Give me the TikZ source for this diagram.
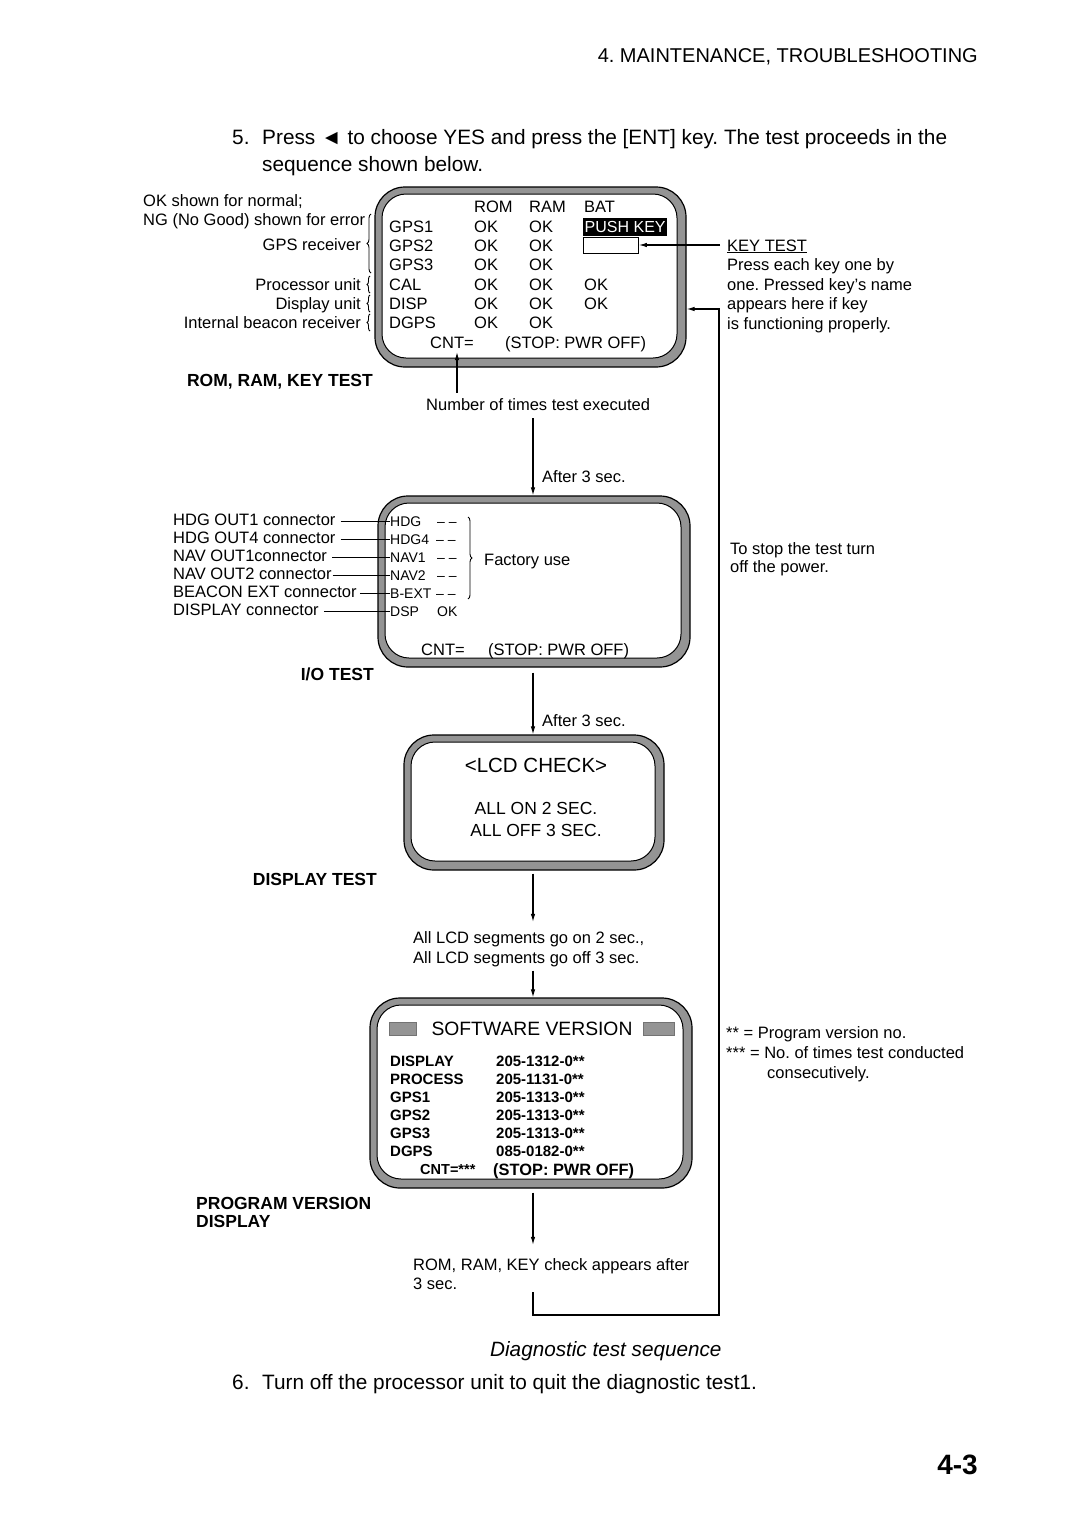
\documentclass[tikz,border=0pt]{standalone}
\usepackage{fontspec}
\setmainfont{Liberation Sans}
\usetikzlibrary{arrows.meta,positioning,calc,decorations.pathreplacing}
\frenchspacing

\begin{document}
\begin{tikzpicture}[
    x=1pt,y=-1pt,>={Latex[length=8pt,width=4.5pt]},
    body/.style={font=\fontsize{20.8}{24}\selectfont,inner sep=0pt},
    note/.style={font=\fontsize{16.5}{19.5}\selectfont,inner sep=0pt},
    io/.style={font=\fontsize{14}{17}\selectfont,inner sep=0pt},
    ver/.style={font=\bfseries\fontsize{15}{17}\selectfont,inner sep=0pt},
    head/.style={font=\bfseries\fontsize{17.5}{19}\selectfont,inner sep=0pt},
    frame/.style={draw,fill=black!42,rounded corners=30pt,line width=1.2pt,inner sep=0pt},
    screen/.style={draw,fill=white,rounded corners=24pt,line width=1pt,inner sep=0pt},
    brc/.style={decorate,decoration={brace,amplitude=4pt},line width=0.9pt},
    link/.style={line width=1.1pt}]

  \useasboundingbox (0,0) rectangle (1080,1528);

  % page text
  \node[body,font=\fontsize{20}{24}\selectfont,anchor=base east] (hdr) at (978,63) {4. MAINTENANCE, TROUBLESHOOTING};
  \node[body,anchor=base west] (n5) at (232,144) {5.};
  \node[body,anchor=base west] (s5a) at (262,144) {Press ◄ to choose YES and press the [ENT] key. The test proceeds in the};
  \node[body,anchor=base west] (s5b) at (262,171) {sequence shown below.};

  \coordinate (axis) at (533,0);

  % ROM, RAM, KEY test
  \node[frame,minimum width=311pt,minimum height=180pt] (B1o) at (530.5,277) {};
  \node[screen,minimum width=295pt,minimum height=164pt] (B1i) at (529.5,276) {};
  \node[note,anchor=base west] (rom) at (474,212) {ROM};
  \node[note,anchor=base west] (ram) at (529,212) {RAM};
  \node[note,anchor=base west] (bat) at (584,212) {BAT};
  \node[note,anchor=base west] (g1) at (389,232) {GPS1};
  \node[note,anchor=base west] (g1a) at (474,232) {OK};
  \node[note,anchor=base west] (g1b) at (529,232) {OK};
  \node[note,font=\fontsize{16}{19}\selectfont,anchor=base west,fill=black,text=white,inner xsep=1.5pt,inner ysep=2pt,text height=12pt,text depth=2pt] (push) at (583,232) {PUSH KEY};
  \node[note,anchor=base west] (g2) at (389,251) {GPS2};
  \node[note,anchor=base west] (g2a) at (474,251) {OK};
  \node[note,anchor=base west] (g2b) at (529,251) {OK};
  \node[draw,line width=0.8pt,minimum width=55pt,minimum height=16pt,inner sep=0pt] (kbox) at (611,245) {};
  \node[note,anchor=base west] (g3) at (389,270) {GPS3};
  \node[note,anchor=base west] (g3a) at (474,270) {OK};
  \node[note,anchor=base west] (g3b) at (529,270) {OK};
  \node[note,anchor=base west] (cal) at (389,290) {CAL};
  \node[note,anchor=base west] (cala) at (474,290) {OK};
  \node[note,anchor=base west] (calb) at (529,290) {OK};
  \node[note,anchor=base west] (calc) at (584,290) {OK};
  \node[note,anchor=base west] (disp) at (389,309) {DISP};
  \node[note,anchor=base west] (dispa) at (474,309) {OK};
  \node[note,anchor=base west] (dispb) at (529,309) {OK};
  \node[note,anchor=base west] (dispc) at (584,309) {OK};
  \node[note,anchor=base west] (dgps) at (389,328) {DGPS};
  \node[note,anchor=base west] (dgpsa) at (474,328) {OK};
  \node[note,anchor=base west] (dgpsb) at (529,328) {OK};
  \node[note,anchor=base west] (cnt1) at (430,348) {CNT=};
  \node[note,anchor=base west] (stop1) at (505,348) {(STOP: PWR OFF)};

  \node[note,anchor=base west] (okn) at (143,206) {OK shown for normal;};
  \node[note,anchor=base west] (ng) at (143,225) {NG (No Good) shown for error};
  \node[note,anchor=base east] (gpsr) at (361,250) {GPS receiver};
  \node[note,anchor=base east] (proc) at (361,290) {Processor unit};
  \node[note,anchor=base east] (dunit) at (361,309) {Display unit};
  \node[note,anchor=base east] (ibr) at (361,328) {Internal beacon receiver};
  \draw[brc] (371,273) -- (371,214);
  \draw[brc,decoration={amplitude=3pt}] (370,293) -- (370,276);
  \draw[brc,decoration={amplitude=3pt}] (370,312) -- (370,295);
  \draw[brc,decoration={amplitude=3pt}] (370,331) -- (370,314);

  \node[note,anchor=base west] (kt) at (727,251) {\underline{KEY TEST}};
  \node[note,anchor=base west] (kt1) at (727,270) {Press each key one by};
  \node[note,anchor=base west] (kt2) at (727,290) {one. Pressed key’s name};
  \node[note,anchor=base west] (kt3) at (727,309) {appears here if key};
  \node[note,anchor=base west] (kt4) at (727,329) {is functioning properly.};
  \draw[link,->,shorten <=7pt] (kbox.east -| kt.west) -- (kbox.east);

  \node[head,anchor=base east] (h1) at (373,386) {ROM, RAM, KEY TEST};
  \node[note,anchor=base west] (num) at (426,410) {Number of times test executed};
  \coordinate (cntx) at (457,352);
  \draw[link,->,shorten <=5pt] (num.north -| cntx) -- (cntx);
  \node[note,anchor=base west] (aft1) at (542,482) {After 3 sec.};

  % I/O test
  \node[frame,minimum width=312pt,minimum height=171pt] (B2o) at (534,581.5) {};
  \node[screen,minimum width=296pt,minimum height=155pt] (B2i) at (533,580.5) {};
  \node[io,anchor=base west] (hdg) at (390,526) {HDG};
  \node[io,anchor=base west] (hdg4) at (390,544) {HDG4};
  \node[io,anchor=base west] (nav1) at (390,562) {NAV1};
  \node[io,anchor=base west] (nav2) at (390,580) {NAV2};
  \node[io,anchor=base west] (bext) at (390,598) {B-EXT};
  \node[io,anchor=base west] (dsp) at (390,616) {DSP};
  \node[io,anchor=base west] (hdgd) at (437,526) {– –};
  \node[io,anchor=base west] (hdg4d) at (436,544) {– –};
  \node[io,anchor=base west] (nav1d) at (437,562) {– –};
  \node[io,anchor=base west] (nav2d) at (437,580) {– –};
  \node[io,anchor=base west] (bextd) at (436,598) {– –};
  \node[io,anchor=base west] (dspok) at (437,616) {OK};
  \draw[brc] (468,517) -- (468,599);
  \node[note,anchor=base west] (fac) at (484,565) {Factory use};
  \node[note,anchor=base west] (cnt2) at (421,655) {CNT=};
  \node[note,anchor=base west] (stop2) at (488,655) {(STOP: PWR OFF)};

  \node[note,anchor=base west] (c1) at (173,525) {HDG OUT1 connector};
  \node[note,anchor=base west] (c2) at (173,543) {HDG OUT4 connector};
  \node[note,anchor=base west] (c3) at (173,561) {NAV OUT1connector};
  \node[note,anchor=base west] (c4) at (173,579) {NAV OUT2 connector};
  \node[note,anchor=base west] (c5) at (173,597) {BEACON EXT connector};
  \node[note,anchor=base west] (c6) at (173,615) {DISPLAY connector};
  \draw[link,shorten <=5pt] (hdg.west -| c1.east) -- (hdg.west);
  \draw[link,shorten <=5pt] (hdg4.west -| c2.east) -- (hdg4.west);
  \draw[link,shorten <=5pt] (nav1.west -| c3.east) -- (nav1.west);
  \draw[link,shorten <=1pt] (nav2.west -| c4.east) -- (nav2.west);
  \draw[link,shorten <=3pt] (bext.west -| c5.east) -- (bext.west);
  \draw[link,shorten <=5pt] (dsp.west -| c6.east) -- (dsp.west);

  \node[note,anchor=base west] (stp1) at (730,554) {To stop the test turn};
  \node[note,anchor=base west] (stp2) at (730,572) {off the power.};

  \node[head,anchor=base east] (h2) at (374,680) {I/O TEST};
  \node[note,anchor=base west] (aft2) at (542,726) {After 3 sec.};

  % display test
  \node[frame,minimum width=260pt,minimum height=135pt] (B3o) at (534,802.5) {};
  \node[screen,minimum width=244pt,minimum height=119pt] (B3i) at (533,801.5) {};
  \node[body,font=\fontsize{20.5}{24}\selectfont,anchor=base] (lcd) at (536,772) {<LCD CHECK>};
  \node[body,font=\fontsize{17.5}{21}\selectfont,anchor=base] (allon) at (536,814) {ALL ON 2 SEC.};
  \node[body,font=\fontsize{17.5}{21}\selectfont,anchor=base] (alloff) at (536,836) {ALL OFF 3 SEC.};

  \node[head,anchor=base east] (h3) at (377,885) {DISPLAY TEST};
  \node[note,anchor=base west] (seg1) at (413,943) {All LCD segments go on 2 sec.,};
  \node[note,anchor=base west] (seg2) at (413,963) {All LCD segments go off 3 sec.};

  % program version display
  \node[frame,minimum width=322pt,minimum height=190pt] (B4o) at (531,1093) {};
  \node[screen,minimum width=306pt,minimum height=174pt] (B4i) at (530,1092) {};
  \node[body,font=\fontsize{19.3}{23}\selectfont,anchor=base] (sw) at (532,1035) {SOFTWARE VERSION};
  \draw[fill=black!42,draw=black!55] (389,1022) rectangle (416,1035);
  \draw[fill=black!42,draw=black!55] (643,1022) rectangle (674,1035);
  \node[ver,anchor=base west] (v1) at (390,1066) {DISPLAY};
  \node[ver,anchor=base west] (v2) at (390,1084) {PROCESS};
  \node[ver,anchor=base west] (v3) at (390,1102) {GPS1};
  \node[ver,anchor=base west] (v4) at (390,1120) {GPS2};
  \node[ver,anchor=base west] (v5) at (390,1138) {GPS3};
  \node[ver,anchor=base west] (v6) at (390,1156) {DGPS};
  \node[ver,anchor=base west] (p1) at (496,1066) {205-1312-0**};
  \node[ver,anchor=base west] (p2) at (496,1084) {205-1131-0**};
  \node[ver,anchor=base west] (p3) at (496,1102) {205-1313-0**};
  \node[ver,anchor=base west] (p4) at (496,1120) {205-1313-0**};
  \node[ver,anchor=base west] (p5) at (496,1138) {205-1313-0**};
  \node[ver,anchor=base west] (p6) at (496,1156) {085-0182-0**};
  \node[ver,font=\bfseries\fontsize{14.5}{17}\selectfont,anchor=base west] (cnt3) at (420,1174) {CNT=***};
  \node[ver,font=\bfseries\fontsize{16.4}{18}\selectfont,anchor=base west] (stop3) at (493,1175) {(STOP: PWR OFF)};

  \node[note,anchor=base west] (st1) at (726,1038) {** = Program version no.};
  \node[note,anchor=base west] (st2) at (726,1058) {*** = No. of times test conducted};
  \node[note,anchor=base west] (st3) at (767,1078) {consecutively.};

  \node[head,anchor=base west] (h4) at (196,1209) {PROGRAM VERSION};
  \node[head,anchor=base west] (h4b) at (196,1227) {DISPLAY};
  \node[note,anchor=base west] (back1) at (413,1270) {ROM, RAM, KEY check appears after};
  \node[note,anchor=base west] (back2) at (413,1289) {3 sec.};

  % sequence arrows
  \draw[link,->,shorten <=8pt] (axis |- num.south) -- (axis |- B2o.north);
  \draw[link,->,shorten <=5pt] (axis |- B2o.south) -- (axis |- B3o.north);
  \draw[link,->,shorten <=3pt,shorten >=9pt] (axis |- B3o.south) -- (axis |- seg1.north);
  \draw[link,->,shorten <=4pt] (axis |- seg2.south) -- (axis |- B4o.north);
  \draw[link,->,shorten <=4pt,shorten >=13pt] (axis |- B4o.south) -- (axis |- back1.north);

  % back to the first test
  \coordinate (ret) at (533,1292);
  \coordinate (retc) at (719,1315);
  \coordinate (loopin) at (719,309);
  \draw[link,->] (ret) |- (retc) -- (loopin) -- (loopin -| B1o.east);

  \node[body,font=\itshape\fontsize{20.7}{24}\selectfont,anchor=base west] (cap) at (490,1356) {Diagnostic test sequence};
  \node[body,anchor=base west] (n6) at (232,1389) {6.};
  \node[body,anchor=base west] (s6) at (262,1389) {Turn off the processor unit to quit the diagnostic test1.};
  \node[body,font=\bfseries\fontsize{28}{32}\selectfont,anchor=base east] (pg) at (978,1474) {4-3};
\end{tikzpicture}
\end{document}
